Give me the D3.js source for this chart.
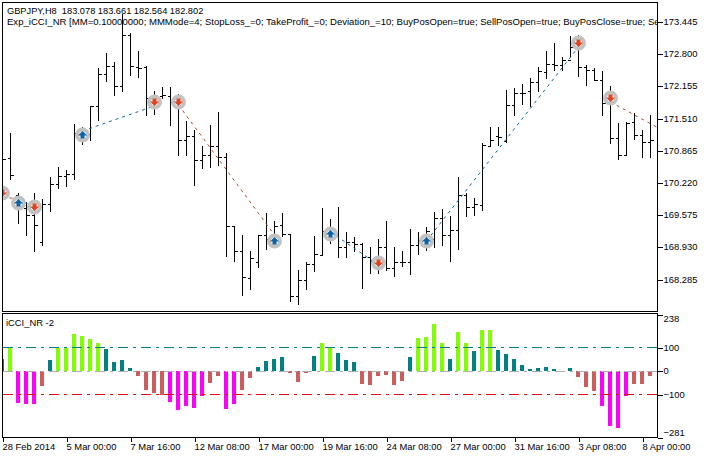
<!DOCTYPE html>
<html><head><meta charset="utf-8">
<script src="https://cdnjs.cloudflare.com/ajax/libs/d3/7.8.5/d3.min.js"></script>
<style>html,body{margin:0;padding:0;background:#fff}svg{display:block}
text{font-family:"Liberation Sans",Arial,sans-serif;font-size:9.4px;fill:#000}</style>
</head><body><svg id="c" width="709" height="458"></svg>
<script>
const titleLine="GBPJPY,H8\u00a0\u00a0183.078 183.661 182.564 182.802";
const expertLine="Exp_iCCI_NR [MM=0.10000000; MMMode=4; StopLoss_=0; TakeProfit_=0; Deviation_=10; BuyPosOpen=true; SellPosOpen=true; BuyPosClose=true; Se";
const indicatorName="iCCI_NR -2";
const priceTicks=[173.445,172.800,172.155,171.510,170.865,170.220,169.575,168.930,168.285];
const cciTicks=[238,100,0,-100,-281];
const cciLevels=[100,0,-100];
const dateLabels=["28 Feb 2014","5 Mar 00:00","7 Mar 16:00","12 Mar 08:00","17 Mar 00:00","19 Mar 16:00","24 Mar 08:00","27 Mar 00:00","31 Mar 16:00","3 Apr 08:00","8 Apr 00:00"];

const high=[170.901,171.202,170.000,169.820,170.000,169.880,170.321,170.521,170.461,171.382,171.322,171.743,172.504,172.824,172.624,173.586,173.205,172.864,172.544,172.043,172.123,172.123,171.983,171.442,171.262,170.942,171.362,171.623,170.801,169.339,
169.159,168.839,169.159,169.600,169.440,169.600,169.179,168.458,168.618,169.139,169.700,169.480,169.720,169.219,169.119,168.999,168.919,169.079,169.440,168.919,168.839,169.279,169.219,169.319,169.620,169.680,169.540,170.321,170.000,169.900,
171.002,171.322,171.322,172.063,172.103,172.203,172.304,172.524,172.864,173.005,172.724,173.145,173.165,172.564,172.504,172.444,172.143,171.402,171.422,171.603,171.262,171.563];
const low=[169.880,170.261,169.380,169.139,168.819,168.939,169.620,170.080,170.120,170.261,170.962,171.042,171.442,172.224,171.943,172.023,172.344,172.304,171.543,171.563,171.883,171.342,170.741,170.741,170.140,170.481,170.501,170.541,168.718,168.618,
167.937,168.057,168.498,168.859,168.939,169.119,167.817,167.757,168.057,168.418,168.759,168.979,168.698,168.698,168.819,168.077,168.378,168.378,168.438,168.318,168.518,168.358,168.759,168.839,168.899,168.939,168.618,168.859,169.520,169.540,
169.640,170.942,170.942,171.002,171.543,171.763,171.723,172.023,172.284,172.444,172.444,172.724,172.324,172.143,172.244,171.543,170.982,170.661,170.741,171.062,170.701,170.701];
const open=[170.020,170.701,169.960,169.700,169.560,169.019,169.780,170.180,170.341,170.381,171.182,171.182,171.743,172.384,172.544,172.163,173.165,172.524,172.524,171.903,171.943,171.943,171.823,171.062,171.142,170.661,170.761,170.942,170.721,169.339,
168.839,168.298,168.618,169.159,169.079,169.359,169.179,167.937,168.258,168.578,168.759,169.199,169.179,168.919,169.019,168.979,168.718,168.638,168.919,168.498,168.618,168.618,168.959,168.959,169.079,169.500,169.159,169.259,169.960,169.720,
169.760,170.942,171.142,171.042,171.763,172.003,172.043,172.224,172.424,172.584,172.564,172.664,172.925,172.524,172.464,172.264,171.803,171.102,170.761,171.422,171.162,171.022];
const close=[170.681,170.361,169.820,169.560,169.359,169.780,170.180,170.341,170.381,171.202,171.282,171.743,172.384,172.544,172.163,173.165,172.544,172.504,171.903,171.923,171.963,171.823,171.062,171.142,170.661,170.761,170.942,170.721,169.339,168.838,
168.318,168.698,169.159,169.079,169.339,169.179,167.937,168.258,168.578,168.779,169.239,169.159,168.919,169.019,168.979,168.718,168.638,168.919,168.498,168.618,168.618,168.959,169.059,169.239,169.500,169.159,169.259,169.960,169.720,169.780,
170.962,171.062,171.122,171.763,172.003,172.003,172.224,172.444,172.584,172.564,172.664,172.925,172.524,172.464,172.264,171.803,171.102,170.761,171.402,171.162,171.022,171.062];

const upSignals=[[2,169.820],[10,171.182],[34,169.059],[41,169.199],[53,169.059]];
const downSignals=[[0,170.020],[4,169.740],[19,171.843],[22,171.843],[47,168.618],[72,173.025],[76,171.923]];
const buyTrades=[[2,169.900,4,169.740],[10,171.262,19,171.763],[41,169.239,47,168.578],[53,169.059,72,172.945]];
const sellTrades=[[0,169.940,2,169.900],[22,171.783,34,169.179],[76,171.843,82,171.322]];

const cci=[51,105,-136,-140,-140,-61,47,100,100,157,150,135,119,93,39,47,14,-19,-78,-94,-99,-130,-164,-147,-156,-107,-49,-19,-160,-138,
-78,-28,18,43,51,60,-7,-44,-7,64,118,100,76,47,39,-53,-57,-19,-15,-57,-40,60,141,145,200,118,51,166,118,85,
175,175,89,72,51,26,10,14,18,10,3,14,-24,-65,-82,-147,-232,-240,-107,-53,-53,-19];

const svg=d3.select("#c");
const x=d3.scaleLinear().domain([0,81]).range([2.5,650.5]);
const y=d3.scaleLinear().domain([173.445,168.285]).range([22,279.6]);
const y2=d3.scaleLinear().domain([238,-281]).range([315.2,437.5]);
const idx=d3.range(cci.length);
const snap=v=>Math.floor(v)+0.5;

const defs=svg.append("defs");
defs.append("clipPath").attr("id","mainClip").append("rect").attr("x",3).attr("y",3).attr("width",654).attr("height",308);
defs.append("clipPath").attr("id","subClip").append("rect").attr("x",3).attr("y",314).attr("width",654).attr("height",123);

// price bars
const main=svg.append("g").attr("clip-path","url(#mainClip)");
const bars=main.append("g").attr("stroke","#000").attr("stroke-width",1).attr("shape-rendering","crispEdges");
bars.selectAll("line.hl").data(idx).join("line").attr("class","hl")
  .attr("x1",x).attr("x2",x).attr("y1",i=>Math.floor(y(high[i]))).attr("y2",i=>Math.floor(y(low[i])));
bars.selectAll("line.o").data(idx).join("line").attr("class","o")
  .attr("x1",i=>x(i)-3).attr("x2",x).attr("y1",i=>snap(y(open[i]))).attr("y2",i=>snap(y(open[i])));
bars.selectAll("line.c").data(idx).join("line").attr("class","c")
  .attr("x1",x).attr("x2",i=>x(i)+3).attr("y1",i=>snap(y(close[i]))).attr("y2",i=>snap(y(close[i])));

// trade lines
function trades(data,color){
  main.append("g").selectAll("line").data(data).join("line")
   .attr("x1",d=>x(d[0])).attr("y1",d=>y(d[1])).attr("x2",d=>x(d[2])).attr("y2",d=>y(d[3]))
   .attr("stroke",color).attr("stroke-width",1).attr("stroke-dasharray","3 4");
}
trades(buyTrades,"#0c6896");
trades(sellTrades,"#a84a2c");

// signal markers
function signals(data,color,path){
  const g=main.append("g").selectAll("g").data(data).join("g")
    .attr("transform",d=>`translate(${x(d[0])},${y(d[1])})`);
  g.append("circle").attr("r",5.5).attr("fill","#fff").attr("stroke","#c2c2c2").attr("stroke-width",4);
  g.append("path").attr("d",path).attr("fill",color);
}
signals(upSignals,"#0b62a6","M0,-4L4.5,0.5H2V3.5H-2V0.5H-4.5Z");
signals(downSignals,"#e0431f","M0,4L4.5,-0.5H2V-3.5H-2V-0.5H-4.5Z");

// CCI histogram
const sub=svg.append("g").attr("clip-path","url(#subClip)");
const colorOf=v=>v>=100?"#7fff00":v>0?"#008080":v<=-100?"#ff00ff":"#cd5c5c";
sub.append("g").attr("shape-rendering","crispEdges").selectAll("rect").data(cci).join("rect")
  .attr("x",(d,i)=>x(i)-2.5).attr("width",4)
  .attr("y",d=>Math.min(y2(d),y2(0))).attr("height",d=>Math.abs(y2(d)-y2(0)))
  .attr("fill",colorOf);
sub.append("g").attr("shape-rendering","crispEdges").selectAll("line").data(cciLevels).join("line")
  .attr("x1",3).attr("x2",657).attr("y1",d=>snap(y2(d))).attr("y2",d=>snap(y2(d)))
  .attr("stroke",d=>d>0?"#008080":d<0?"#e01010":"#b0b0b0").attr("stroke-width",1)
  .attr("stroke-dasharray","10 5 3 5");

// frames
const frames=svg.append("g").attr("fill","none").attr("stroke","#000").attr("shape-rendering","crispEdges");
frames.append("rect").attr("x",2.5).attr("y",2.5).attr("width",655).attr("height",309);
frames.append("rect").attr("x",2.5).attr("y",313.5).attr("width",655).attr("height",124);

// axes
const ax1=svg.append("g").attr("transform","translate(657.5,0)").attr("shape-rendering","crispEdges")
  .call(d3.axisRight(y).tickValues(priceTicks).tickSize(5).tickPadding(1).tickFormat(d3.format(".3f")));
ax1.select(".domain").remove();
const ax2=svg.append("g").attr("transform","translate(657.5,0)").attr("shape-rendering","crispEdges")
  .call(d3.axisRight(y2).tickValues(cciTicks).tickSize(5).tickPadding(1).tickFormat(d3.format("d")));
ax2.select(".domain").remove();
svg.selectAll("g.tick text").attr("dy","0.26em");
ax2.selectAll("text").attr("dy",d=>d===238?"0.65em":d===-281?"-0.25em":"0.26em");
const xAxisScale=d3.scaleLinear().domain([0,dateLabels.length-1]).range([x(0),x(80)]);
const ax3=svg.append("g").attr("transform","translate(0,438)").attr("shape-rendering","crispEdges")
  .call(d3.axisBottom(xAxisScale).tickValues(d3.range(dateLabels.length)).tickSize(4).tickPadding(1).tickFormat(i=>dateLabels[i]));
ax3.select(".domain").remove();
ax3.selectAll("text").attr("text-anchor","start").attr("dx",-0.5);
svg.selectAll("g.tick line").attr("stroke","#000");
svg.selectAll("g.tick text").style("font-family",'"Liberation Sans",Arial,sans-serif').style("font-size","9.4px").attr("fill","#000");

// captions
const cap=svg.append("g");
cap.append("text").attr("x",7).attr("y",13.5).style("font-size","9.25px").text(titleLine);
cap.append("text").attr("x",7).attr("y",24.5).style("font-size","9.55px").attr("clip-path","url(#mainClip)").text(expertLine);
cap.append("text").attr("x",6).attr("y",326).text(indicatorName);
</script></body></html>
